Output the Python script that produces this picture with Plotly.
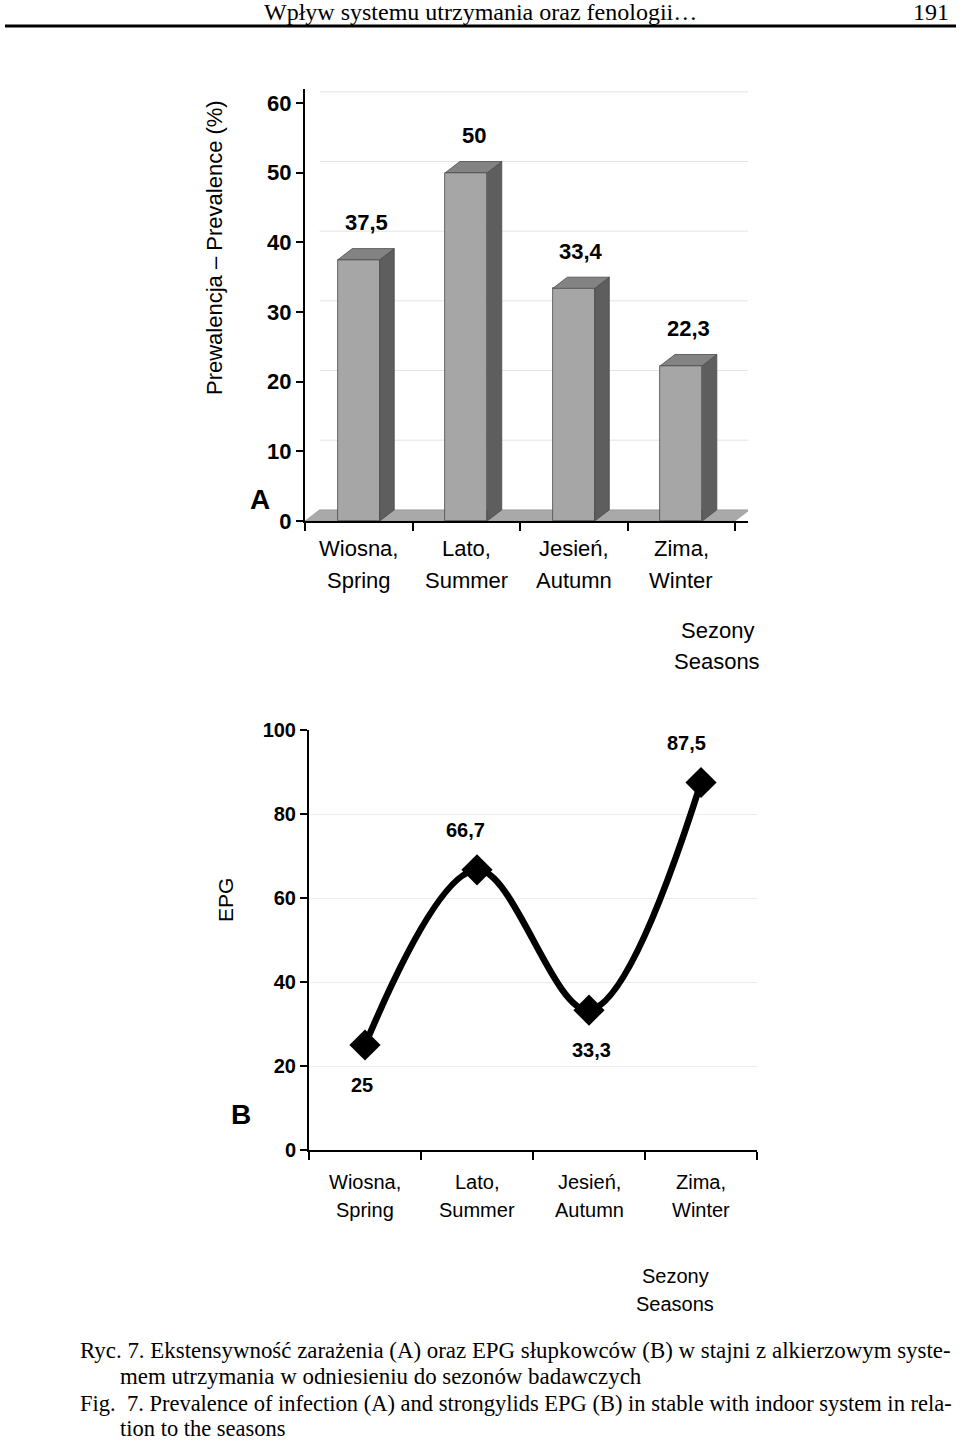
import plotly.graph_objects as go

# ---------------- data ----------------
seasons_pl = ["Wiosna,", "Lato,", "Jesień,", "Zima,"]
seasons_en = ["Spring", "Summer", "Autumn", "Winter"]
prevalence = [37.5, 50, 33.4, 22.3]
epg = [25, 66.7, 33.3, 87.5]
ticks_a = [0, 10, 20, 30, 40, 50, 60]
ticks_b = [0, 20, 40, 60, 80, 100]

W, H = 960, 1440
def px(x):
    return x / W
def py(y):
    return 1 - y / H

def fmt(v):
    s = ("%g" % v)
    return s.replace(".", ",")

SANS = "Liberation Sans, Arial, sans-serif"
SERIF = "Liberation Serif, Times New Roman, serif"

fig = go.Figure()
idx = list(range(len(seasons_pl)))

# 3D geometry (in data units)
bw = 0.39
dx = 0.135
dy = 1.6

# -------- chart A: 3D bars --------
fig.add_trace(go.Bar(x=idx, y=prevalence, width=bw, xaxis="x", yaxis="y",
                     marker=dict(color="#a6a6a6", line=dict(color="#4a4a4a", width=0.8)),
                     showlegend=False, hoverinfo="skip"))
for i, v in zip(idx, prevalence):
    r = i + bw / 2
    l = i - bw / 2
    fig.add_trace(go.Scatter(x=[r, r + dx, r + dx, r, r], y=[0, dy, v + dy, v, 0],
                             fill="toself", fillcolor="#5e5e5e", mode="lines",
                             line=dict(color="#4a4a4a", width=0.8), xaxis="x", yaxis="y",
                             showlegend=False, hoverinfo="skip"))
    fig.add_trace(go.Scatter(x=[l, l + dx, r + dx, r, l], y=[v, v + dy, v + dy, v, v],
                             fill="toself", fillcolor="#838383", mode="lines",
                             line=dict(color="#4a4a4a", width=0.8), xaxis="x", yaxis="y",
                             showlegend=False, hoverinfo="skip"))

shapes = []
n = len(idx)
for t in ticks_a[1:]:
    shapes.append(dict(type="line", xref="x", yref="y", x0=-0.5 + dx, x1=n - 0.5 + dx,
                       y0=t + dy, y1=t + dy, line=dict(color="#e4e4e4", width=1), layer="below"))
shapes.append(dict(type="path", xref="x", yref="y",
                   path=f"M {-0.5},0 L {n-0.5},0 L {n-0.5+dx},{dy} L {-0.5+dx},{dy} Z",
                   fillcolor="#a9a9a9", line=dict(color="#8a8a8a", width=0.5), layer="below"))

# -------- chart B: line --------
fig.add_trace(go.Scatter(x=idx, y=epg, xaxis="x2", yaxis="y2", mode="lines+markers",
                         line=dict(color="black", width=6.5, shape="spline", smoothing=1.0),
                         marker=dict(symbol="diamond", size=24, color="black"),
                         showlegend=False, hoverinfo="skip", cliponaxis=False))

annotations = []
for i, v in zip(idx, prevalence):
    annotations.append(dict(x=i + dx / 2, y=v + dy, xref="x", yref="y", text=fmt(v),
                            showarrow=False, yshift=26,
                            font=dict(family=SANS, size=22, color="black", weight="bold")))
pos = [-1, 1, -1, 1]
xs = [-3, -12, 2, -15]
for i, v, p, xsh in zip(idx, epg, pos, xs):
    annotations.append(dict(x=i, y=v, xref="x2", yref="y2", text=fmt(v), showarrow=False,
                            yshift=40 * p, xshift=xsh,
                            font=dict(family=SANS, size=20, color="black", weight="bold")))

for i, (a, b) in enumerate(zip(seasons_pl, seasons_en)):
    annotations.append(dict(x=i, y=py(548), xref="x", yref="paper", text=a, showarrow=False,
                            font=dict(family=SANS, size=22, color="black"), yanchor="middle"))
    annotations.append(dict(x=i, y=py(580), xref="x", yref="paper", text=b, showarrow=False,
                            font=dict(family=SANS, size=22, color="black"), yanchor="middle"))
    annotations.append(dict(x=i, y=py(1182), xref="x2", yref="paper", text=a, showarrow=False,
                            font=dict(family=SANS, size=20, color="black"), yanchor="middle"))
    annotations.append(dict(x=i, y=py(1210), xref="x2", yref="paper", text=b, showarrow=False,
                            font=dict(family=SANS, size=20, color="black"), yanchor="middle"))

def txt(x, y, text, size, family=SANS, bold=False, angle=0, xanchor="center"):
    annotations.append(dict(x=px(x), y=py(y), xref="paper", yref="paper", text=text,
                            showarrow=False, textangle=angle, xanchor=xanchor, yanchor="middle",
                            font=dict(family=family, size=size, color="black",
                                      weight="bold" if bold else "normal")))

txt(717, 630, "Sezony", 22)
txt(717, 661, "Seasons", 22)
txt(675, 1276, "Sezony", 20)
txt(675, 1304, "Seasons", 20)
txt(214, 248, "Prewalencja – Prevalence (%)", 22, angle=-90)
txt(225, 900, "EPG", 21, angle=-90)
txt(260, 499, "A", 28, bold=True)
txt(241, 1114, "B", 28, bold=True)

txt(480, 12, "Wpływ systemu utrzymania oraz fenologii…", 24, family=SERIF)
txt(951, 12, "191", 24, family=SERIF, xanchor="right")
shapes.append(dict(type="line", xref="paper", yref="paper", x0=px(5), x1=px(956),
                   y0=py(26), y1=py(26), line=dict(color="black", width=3)))

txt(78, 1350, "Ryc. 7. Ekstensywność zarażenia (A) oraz EPG słupkowców (B) w stajni z alkierzowym syste-", 22.9, family=SERIF, xanchor="left")
txt(118, 1376, "mem utrzymania w odniesieniu do sezonów badawczych", 22.9, family=SERIF, xanchor="left")
txt(78, 1403, "Fig.  7. Prevalence of infection (A) and strongylids EPG (B) in stable with indoor system in rela-", 22.5, family=SERIF, xanchor="left")
txt(118, 1428, "tion to the seasons", 22.5, family=SERIF, xanchor="left")

ya_top = 521 - 62 * (521 - 103) / 60.0

fig.update_layout(
    width=W, height=H, autosize=False,
    margin=dict(l=0, r=0, t=0, b=0, pad=0, autoexpand=False),
    paper_bgcolor="white", plot_bgcolor="white",
    shapes=shapes, annotations=annotations, bargap=0,
    xaxis=dict(domain=[px(305), px(748)], range=[-0.5, n - 0.5 + 0.12],
               tickvals=[k - 0.5 for k in range(n + 1)], showticklabels=False,
               ticks="outside", ticklen=8, tickwidth=2, tickcolor="black", automargin=False,
               showline=True, linecolor="black", linewidth=2, showgrid=False, zeroline=False,
               fixedrange=True),
    yaxis=dict(domain=[py(521), py(ya_top)], range=[0, 62], tickvals=ticks_a,
               ticks="outside", ticklen=7, tickwidth=2, tickcolor="black", automargin=False,
               showline=True, linecolor="black", linewidth=2, showgrid=False, zeroline=False,
               tickfont=dict(family=SANS, size=22, color="black", weight="bold"),
               fixedrange=True),
    xaxis2=dict(domain=[px(309), px(757)], range=[-0.5, n - 0.5], anchor="y2",
                tickvals=[k - 0.5 for k in range(n + 1)], showticklabels=False,
                ticks="outside", ticklen=8, tickwidth=2, tickcolor="black", automargin=False,
                showline=True, linecolor="black", linewidth=2, showgrid=False, zeroline=False,
                fixedrange=True),
    yaxis2=dict(domain=[py(1150), py(730)], range=[0, 100], anchor="x2", tickvals=ticks_b,
                ticks="outside", ticklen=7, tickwidth=2, tickcolor="black", automargin=False,
                showline=True, linecolor="black", linewidth=2,
                showgrid=True, gridcolor="#ececec", gridwidth=1, zeroline=False,
                tickfont=dict(family=SANS, size=20, color="black", weight="bold"),
                fixedrange=True),
)

fix_page = (
    "document.documentElement.style.margin='0';"
    "document.body.style.margin='0';"
    "document.documentElement.style.overflow='hidden';"
    "document.body.style.overflow='hidden';"
    "var g=document.getElementsByClassName('plotly-graph-div')[0];"
    "g.style.position='absolute';g.style.top='0px';g.style.left='0px';"
)

fig.write_html("out.html", config={"displayModeBar": False}, post_script=fix_page)
